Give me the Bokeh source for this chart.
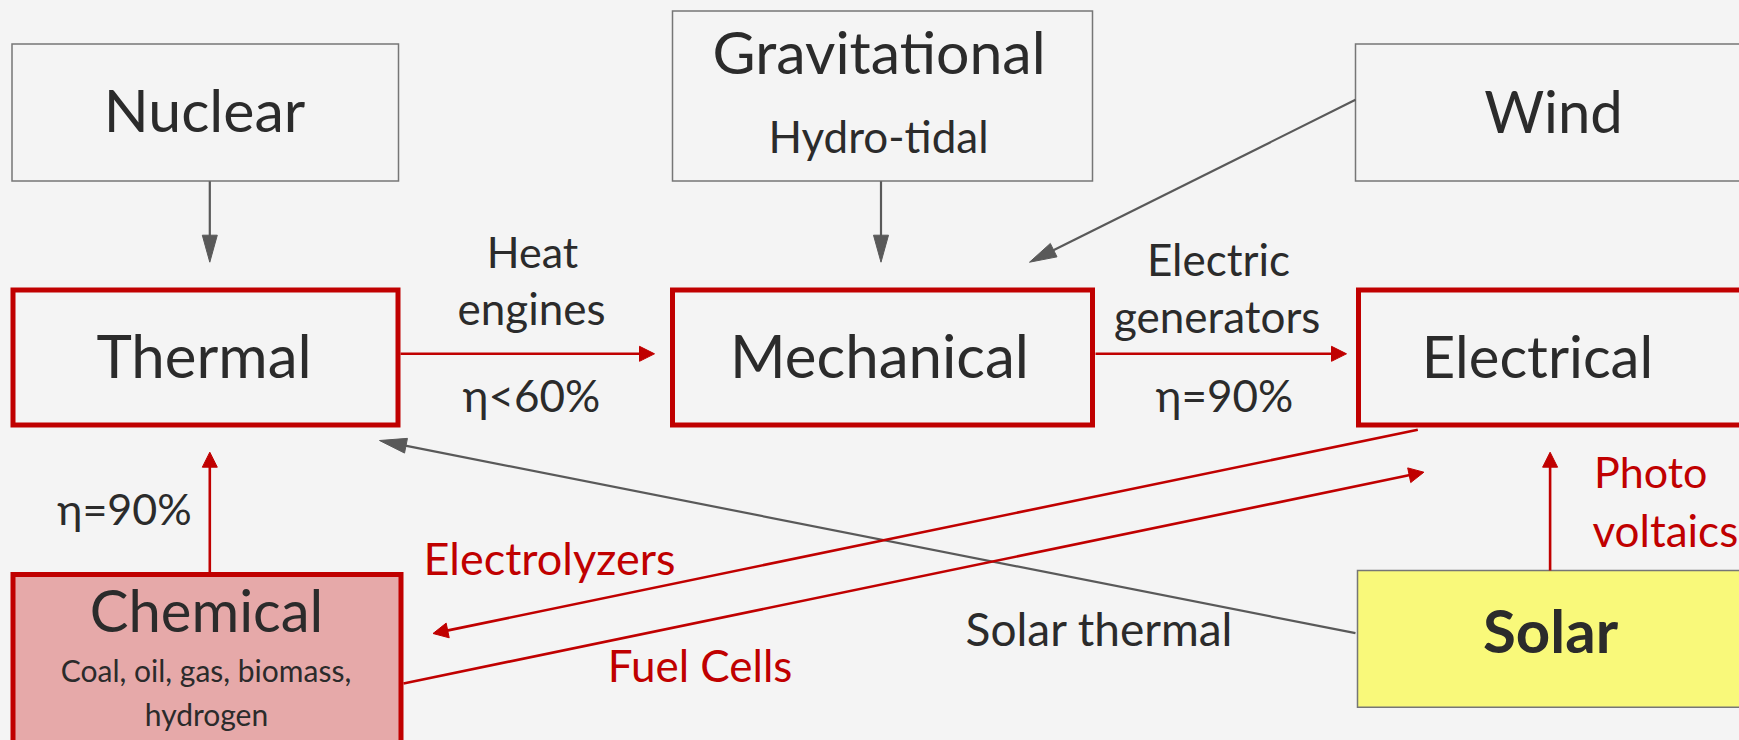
import math
from bokeh.plotting import figure
from bokeh.models import Range1d, ColumnDataSource
from bokeh.core.properties import value
from bokeh.embed import file_html
from bokeh.resources import INLINE

BG = "#f4f4f4"
RED = "#c00000"
GREY = "#595959"
BOXGREY = "#767676"
DARK = "#2b2b2b"
FONT = "Lato"

# ---- boxes (diagram coordinates, y grows downward) ----
box_names = ["Nuclear", "Gravitational", "Wind", "Thermal", "Mechanical", "Electrical", "Chemical", "Solar"]
box_left = [11.5, 672, 1355, 12.5, 672, 1358, 12.5, 1357]
box_right = [398, 1092, 1760, 397.5, 1092, 1770, 400.5, 1760]
box_top = [43.5, 10.5, 43.5, 289.5, 289.5, 289.5, 574, 570]
box_bottom = [180.5, 180.5, 180.5, 424.5, 424.5, 424.5, 760, 706.7]
box_fill = [BG, BG, BG, BG, BG, BG, "#e6a9a9", "#f9f97a"]
box_line = [BOXGREY, BOXGREY, BOXGREY, RED, RED, RED, RED, BOXGREY]
box_lw = [1.5, 1.5, 1.5, 5, 5, 5, 5, 1.5]

# ---- arrows ----
arrow_x0 = [209.3, 880.5, 1355, 1355, 400, 1095, 209.3, 1549.6, 1417.3, 403]
arrow_y0 = [180.7, 180.7, 99.3, 632.7, 353.3, 353.3, 571.7, 570, 429.3, 683]
arrow_x1 = [209.3, 880.5, 1029, 379, 654, 1346, 209.3, 1549.6, 432.5, 1423.4]
arrow_y1 = [261.7, 261.7, 261.7, 440, 353.3, 353.3, 451.7, 451.7, 633, 471.7]
arrow_kind = ["grey", "grey", "grey", "grey", "red", "red", "red", "red", "red", "red"]

# ---- texts (x, baseline y, size in px) ----
text_str = ["Nuclear", "Gravitational", "Hydro-tidal", "Wind", "Thermal", "Mechanical", "Electrical",
            "Chemical", "Coal, oil, gas, biomass,", "hydrogen", "Solar",
            "Heat", "engines", "η<60%", "Electric", "generators", "η=90%", "η=90%",
            "Electrolyzers", "Fuel Cells", "Solar thermal", "Photo", "voltaics"]
text_x = [204, 878.6, 878, 1553, 203.5, 879, 1537,
          206, 205.5, 206, 1550,
          532, 531, 531, 1218, 1216.7, 1224, 124,
          549, 699.5, 1099, 1593.6, 1592]
text_base = [133, 75, 153, 133, 378, 378.3, 378.3,
             631.7, 681.7, 725, 653.3,
             268, 325, 411.7, 276, 333.3, 411.7, 525,
             575, 681.7, 646.7, 488.3, 546.7]
text_px = [59, 59, 44, 58, 60, 60, 58,
           58, 30, 30, 60,
           43, 44, 44, 44, 44, 44, 43,
           45, 44, 46, 43, 44]
text_color = [DARK] * 18 + [RED, RED, DARK, RED, RED]
text_align = ["center"] * 21 + ["left", "left"]
text_style = ["normal"] * 10 + ["bold"] + ["normal"] * 12

p = figure(width=1739, height=740, x_range=Range1d(0, 1739), y_range=Range1d(740, 0),
           output_backend="svg", toolbar_location=None, min_border=0,
           x_axis_location=None, y_axis_location=None)
p.grid.visible = False
p.outline_line_color = None
p.background_fill_color = BG
p.border_fill_color = BG

p.quad(left=box_left, right=box_right, top=box_top, bottom=box_bottom,
       fill_color=box_fill, line_color=box_line, line_width=box_lw, line_join="miter")

# arrows: line + triangular head computed from the endpoints
seg = dict(x0=[], y0=[], x1=[], y1=[], c=[], w=[])
heads = dict(xs=[], ys=[], c=[])
for x0, y0, x1, y1, k in zip(arrow_x0, arrow_y0, arrow_x1, arrow_y1, arrow_kind):
    L = math.hypot(x1 - x0, y1 - y0)
    ux, uy = (x1 - x0) / L, (y1 - y0) / L
    px, py = -uy, ux
    if k == "grey":
        hl, hw, col, lw = 27, 7.5, GREY, 2.2
    else:
        hl, hw, col, lw = 15, 7.5, RED, 2.6
    bx, by = x1 - ux * hl, y1 - uy * hl
    seg["x0"].append(x0); seg["y0"].append(y0)
    seg["x1"].append(bx + ux * 2); seg["y1"].append(by + uy * 2)
    seg["c"].append(col); seg["w"].append(lw)
    heads["xs"].append([x1, bx + px * hw, bx - px * hw])
    heads["ys"].append([y1, by + py * hw, by - py * hw])
    heads["c"].append(col)

p.segment(x0="x0", y0="y0", x1="x1", y1="y1", line_color="c", line_width="w",
          source=ColumnDataSource(seg))
p.patches(xs="xs", ys="ys", fill_color="c", line_color="c", line_width=1,
          source=ColumnDataSource(heads))

# renderer places "alphabetic" text lower than the true baseline: compensate
text_y = [b - 0.40 * s for b, s in zip(text_base, text_px)]
text_size = ["%dpx" % s for s in text_px]
src = ColumnDataSource(dict(x=text_x, y=text_y, t=text_str, s=text_size, c=text_color,
                            a=text_align, st=text_style))
p.text(x="x", y="y", text="t", text_font_size="s", text_color="c", text_align="a",
       text_font_style="st", text_baseline="alphabetic", text_font=value(FONT), source=src)

html = file_html(p, INLINE)
html = html.replace("<head>", "<head><style>html,body{background:%s;}</style>" % BG, 1)
open("out.html", "w").write(html)
